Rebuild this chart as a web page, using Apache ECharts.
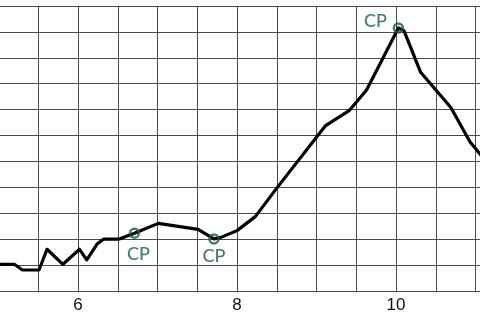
<!DOCTYPE html>
<html>
<head>
<meta charset="utf-8">
<script src="https://cdn.jsdelivr.net/npm/echarts@6/dist/echarts.min.js"></script>
<style>
html,body{margin:0;padding:0;background:#fff;}
#c{width:480px;height:320px;}
</style>
</head>
<body>
<div id="c"></div>
<script>
// Curve values
const curveX = [5.0, 5.2, 5.3, 5.51, 5.61, 5.81, 6.02, 6.11, 6.24, 6.32, 6.51, 6.71, 7.01, 7.51, 7.71, 7.79, 8.0, 8.23, 8.5, 9.11, 9.41, 9.63, 10.03, 10.1, 10.31, 10.69, 10.93, 11.08];
const curveY = [1.03, 1.03, 0.81, 0.81, 1.61, 1.03, 1.61, 1.20, 1.81, 2.0, 2.0, 2.23, 2.61, 2.38, 2.01, 2.06, 2.33, 2.87, 3.97, 6.37, 6.96, 7.76, 10.15, 10.05, 8.44, 7.08, 5.76, 5.2];
// Marked points
const cpX = [6.71, 7.71, 10.03];
const cpY = [2.23, 2.01, 10.15];
const cpLabels = ['CP', 'CP', 'CP'];
// Tick labels shown on the x axis
const xTickLabels = [6, 8, 10];

const cpLabelOffsets = [[4, 21], [0, 17], [-23, -7]];
const green = '#14603f';
const gridColor = '#4a4a4a';

const chart = echarts.init(document.getElementById('c'), null, {renderer: 'canvas'});
chart.setOption({
  animation: false,
  backgroundColor: '#fff',
  grid: {left: -1.5, right: -3.45, top: 6, bottom: 29, containLabel: false, outerBoundsMode: 'none'},
  xAxis: {
    type: 'value', min: 5, max: 11.1, interval: 0.5,
    axisLine: {show: true, lineStyle: {color: gridColor, width: 1}},
    axisTick: {show: false},
    splitLine: {show: true, lineStyle: {color: gridColor, width: 1}},
    axisLabel: {
      margin: 6, fontSize: 17, color: '#111', fontFamily: 'Liberation Sans',
      formatter: v => xTickLabels.indexOf(Math.round(v * 100) / 100) >= 0 ? String(v) : ''
    }
  },
  yAxis: {
    type: 'value', min: 0, max: 11, interval: 1,
    axisLine: {show: false}, axisTick: {show: false}, axisLabel: {show: false},
    splitLine: {show: true, lineStyle: {color: gridColor, width: 1}}
  },
  series: [
    {
      type: 'line',
      data: curveX.map((x, i) => [x, curveY[i]]),
      showSymbol: false,
      clip: true,
      lineStyle: {color: '#000', width: 3.2, join: 'round'},
      z: 2
    },
    {
      type: 'scatter',
      data: cpX.map((x, i) => ({
        value: [x, cpY[i]],
        name: cpLabels[i],
        label: {offset: cpLabelOffsets[i]}
      })),
      symbol: 'circle',
      symbolSize: 9,
      itemStyle: {color: 'rgba(255,255,255,0)', borderColor: green, borderWidth: 2.5},
      label: {
        show: true, position: 'inside', formatter: p => p.name,
        color: green, fontSize: 18, fontFamily: 'Lato', fontWeight: 500,
        align: 'center', verticalAlign: 'middle'
      },
      z: 3
    }
  ]
});
</script>
</body>
</html>
